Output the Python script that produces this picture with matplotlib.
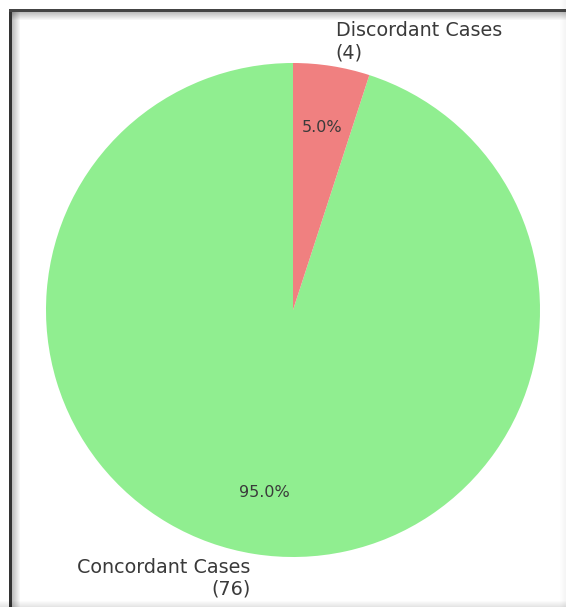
import matplotlib
matplotlib.use("Agg")
import matplotlib.pyplot as plt
from matplotlib.patches import Rectangle

labels = ["Concordant Cases\n(76)", "Discordant Cases\n(4)"]
counts = [76, 4]
colors = ["lightgreen", "lightcoral"]

W, H = 566, 607
fig = plt.figure(figsize=(W / 100, H / 100), dpi=100)
fig.patch.set_facecolor("white")


def px_rect(x, y, w, h, color, alpha=1.0):
    # rectangle given in image pixels (origin top-left)
    r = Rectangle((x / W, 1 - (y + h) / H), w / W, h / H, transform=fig.transFigure,
                  facecolor=color, edgecolor="none", alpha=alpha)
    fig.add_artist(r)


# screenshot frame: dark edge on left/top with a soft shadow inside
for i in range(8):
    a = 0.25 * (1 - i / 8)
    px_rect(12 + i, 12, 1, H - 12, "black", a)
    px_rect(12, 12 + i, W - 12, 1, "black", a)
px_rect(9, 9, 3, H - 9, "#333333")
px_rect(9, 9, W - 9, 3, "#444444")
for i in range(6):
    a = 0.10 * (i + 1) / 6
    px_rect(0, H - 6 + i, W, 1, "black", a)
    px_rect(W - 6 + i, 0, 1, H, "black", a * 0.4)

r = 247
cx, cy = 293, 310
ax = fig.add_axes([(cx - r) / W, 1 - (cy + r) / H, 2 * r / W, 2 * r / H])
wedges, texts, autotexts = ax.pie(counts, labels=labels, colors=colors, autopct="%1.1f%%",
                                  startangle=90, pctdistance=0.75, labeldistance=1.1,
                                  textprops={"color": "#3a3a3a"})
for t in texts:
    t.set_fontsize(13.8)
for t in autotexts:
    t.set_fontsize(11.5)
ax.set_xlim(-1, 1)
ax.set_ylim(-1, 1)
ax.set_aspect("equal")
ax.axis("off")

fig.savefig("out.png", dpi=100)
